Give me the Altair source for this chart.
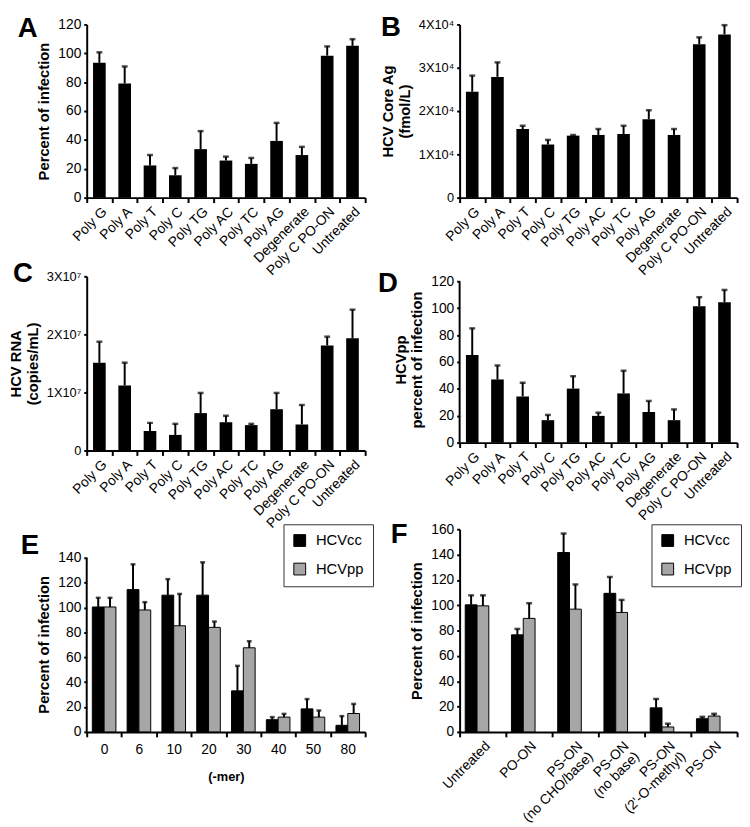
import altair as alt
import pandas as pd

FONT = "Liberation Sans"

POLY = ["Poly G", "Poly A", "Poly T", "Poly C", "Poly TG", "Poly AC", "Poly TC",
        "Poly AG", "Degenerate", "Poly C PO-ON", "Untreated"]

A_VAL = [93.4, 79.1, 22.3, 15.5, 33.6, 25.7, 23.4, 39.3, 29.5, 98.4, 105.2]
A_ERR = [7.3, 11.8, 7.2, 5.0, 12.5, 2.7, 4.1, 12.5, 5.7, 6.4, 4.6]

B_VAL = [24460, 27890, 15850, 12270, 14320, 14480, 14700, 18130, 14480, 35430, 37710]
B_ERR = [3730, 3350, 760, 1070, 150, 1370, 1910, 2060, 1370, 1600, 2130]

C_VAL = [1.51e7, 1.12e7, 0.336e7, 0.269e7, 0.644e7, 0.487e7, 0.437e7, 0.711e7, 0.448e7, 1.81e7, 1.933e7]
C_ERR = [0.364e7, 0.393e7, 0.14e7, 0.19e7, 0.348e7, 0.112e7, 0.022e7, 0.281e7, 0.336e7, 0.151e7, 0.493e7]

D_VAL = [65.1, 47.0, 34.4, 16.7, 40.2, 19.9, 36.6, 22.8, 16.7, 101.5, 104.4]
D_ERR = [19.9, 10.4, 10.2, 3.9, 9.2, 2.4, 16.9, 8.2, 8.0, 6.7, 9.2]

SERIES = ["HCVcc", "HCVpp"]

MER = ["0", "6", "10", "20", "30", "40", "50", "80"]
E_CC = [100.4, 114.4, 109.9, 109.9, 33.0, 9.8, 18.5, 5.3]
E_CC_ERR = [7.4, 20.3, 12.9, 26.4, 20.1, 2.1, 7.9, 7.4]
E_PP = [100.4, 98.0, 85.3, 84.0, 67.6, 11.9, 11.9, 14.8]
E_PP_ERR = [7.4, 6.3, 25.6, 4.7, 5.3, 2.6, 5.3, 7.7]

F_CATS = ["Untreated", "PO-ON", "PS-ON\n(no CHO/base)", "PS-ON\n(no base)",
          "PS-ON\n(2'-O-methyl)", "PS-ON"]
F_CC = [100.3, 76.6, 141.6, 109.4, 19.0, 10.4]
F_CC_ERR = [7.5, 4.7, 15.0, 12.9, 7.0, 1.5]
F_PP = [99.5, 89.6, 96.9, 94.3, 3.9, 12.5]
F_PP_ERR = [8.3, 12.0, 19.5, 9.9, 2.6, 1.8]

W1, W2 = 283, 282


def letter_layer(ch, x, y):
    return alt.Chart(alt.Data(values=[{"t": ch}])).mark_text(
        font=FONT, fontSize=28, fontWeight="bold", align="left", baseline="top", color="black"
    ).encode(text="t:N", x=alt.value(x), y=alt.value(y))


def yaxis(title, ticks, label_expr=None, label_size=14, domain=True, title_y=None):
    kw = dict(values=ticks, title=title, tickSize=3, labelPadding=3,
              labelFontSize=label_size, domain=domain, labelOverlap=False)
    if label_expr:
        kw["labelExpr"] = label_expr
    if title_y is not None:
        kw["titleY"] = title_y
    return alt.Axis(**kw)


def make_y(field, ymax, axis):
    return alt.Y(field, scale=alt.Scale(domain=[0, ymax], nice=False), axis=axis)


def axis_rule(top, ymax, axis):
    # vertical axis line drawn only from 0 up to the top tick value
    return alt.Chart(alt.Data(values=[{"val": 0, "hi": top}])).mark_rule(
        color="black", strokeWidth=2
    ).encode(x=alt.value(0), y=make_y("val:Q", ymax, axis), y2="hi:Q")


def simple_panel(vals, errs, ytitle, ymax, yticks, width, height, letter, lx, ly,
                 label_expr=None, label_size=14, axis_top=None):
    df = pd.DataFrame({"cat": POLY, "val": vals,
                       "hi": [v + e for v, e in zip(vals, errs)]})
    x = alt.X("cat:N", sort=POLY, title=None,
              scale=alt.Scale(paddingInner=0, paddingOuter=0),
              axis=alt.Axis(labelAngle=-45, tickBand="extent", tickSize=5,
                            labelPadding=2, labelOverlap=False))
    ax = yaxis(ytitle, yticks, label_expr, label_size, axis_top is None)
    base = alt.Chart(df)
    bars = base.mark_bar(color="black", width={"band": 0.5}).encode(
        x=x, y=make_y("val:Q", ymax, ax))
    stems = base.mark_rule(color="black", strokeWidth=2).encode(
        x=x, y=make_y("val:Q", ymax, ax), y2="hi:Q")
    caps = base.mark_tick(color="black", size=6, thickness=2.5).encode(
        x=x, y=make_y("hi:Q", ymax, ax))
    layers = [bars, stems, caps]
    if axis_top is not None:
        layers.append(axis_rule(axis_top, ymax, ax))
    layers.append(letter_layer(letter, lx, ly))
    return alt.layer(*layers).properties(width=width, height=height)


def grouped_panel(cats, cc, cce, pp, ppe, ytitle, ymax, yticks, width, height,
                  letter, lx, ly, off_pad, xaxis, legend_x, legend_y, xtitle=None,
                  axis_top=None, cap=6, title_y=None):
    rows = []
    for c, v, e in zip(cats, cc, cce):
        rows.append({"cat": c, "s": "HCVcc", "val": v, "hi": v + e})
    for c, v, e in zip(cats, pp, ppe):
        rows.append({"cat": c, "s": "HCVpp", "val": v, "hi": v + e})
    df = pd.DataFrame(rows)
    x = alt.X("cat:N", sort=cats, title=xtitle,
              scale=alt.Scale(paddingInner=0, paddingOuter=0), axis=xaxis)
    xo = alt.XOffset("s:N", sort=SERIES,
                     scale=alt.Scale(paddingInner=0, paddingOuter=off_pad))
    ax = yaxis(ytitle, yticks, domain=axis_top is None, title_y=title_y)
    color = alt.Color("s:N", sort=SERIES,
                      scale=alt.Scale(domain=SERIES, range=["#000000", "#a6a6a6"]),
                      legend=alt.Legend(title=None, orient="none", legendX=legend_x,
                                        legendY=legend_y, symbolType="square",
                                        symbolSize=144, symbolStrokeColor="black",
                                        symbolStrokeWidth=1, labelFontSize=15,
                                        labelFont=FONT, labelColor="black",
                                        strokeColor="#333", padding=9,
                                        rowPadding=12, labelOffset=9))
    base = alt.Chart(df)
    bars = base.mark_bar(stroke="black", strokeWidth=1).encode(
        x=x, xOffset=xo, y=make_y("val:Q", ymax, ax), color=color)
    stems = base.mark_rule(color="black", strokeWidth=2).encode(
        x=x, xOffset=xo, y=make_y("val:Q", ymax, ax), y2="hi:Q")
    caps = base.mark_tick(color="black", size=cap, thickness=2.5).encode(
        x=x, xOffset=xo, y=make_y("hi:Q", ymax, ax))
    layers = [bars, stems, caps]
    if axis_top is not None:
        layers.append(axis_rule(axis_top, ymax, ax))
    layers.append(letter_layer(letter, lx, ly))
    return alt.layer(*layers).properties(width=width, height=height)


A = simple_panel(A_VAL, A_ERR, "Percent of infection", 120, [0, 20, 40, 60, 80, 100, 120],
                 W1, 176, "A", -70, -9)
B = simple_panel(B_VAL, B_ERR, ["HCV Core Ag", "(fmol/L)"], 40000,
                 [0, 10000, 20000, 30000, 40000], W2, 176, "B", -80, -10,
                 label_expr="datum.value == 0 ? '0' : format(datum.value / 10000, 'd') + 'X10\u2074'",
                 label_size=13)
C = simple_panel(C_VAL, C_ERR, ["HCV RNA", "(copies/mL)"], 3e7,
                 [0, 1e7, 2e7, 3e7], W1, 177, "C", -75, -16,
                 label_expr="datum.value == 0 ? '0' : format(datum.value / 10000000, 'd') + 'X10\u2077'",
                 label_size=13)
D = simple_panel(D_VAL, D_ERR, ["HCVpp", "percent of infection"], 123.7,
                 [0, 20, 40, 60, 80, 100, 120], W2, 169, "D", -83, -6, axis_top=120)

E_XAXIS = alt.Axis(labelAngle=0, tickBand="extent", tickSize=5, labelPadding=6,
                   titleFontSize=13, titlePadding=14, labelOverlap=False)
E = grouped_panel(MER, E_CC, E_CC_ERR, E_PP, E_PP_ERR, "Percent of infection", 162.9,
                  [0, 20, 40, 60, 80, 100, 120, 140], W1, 206, "E", -67, 3, 0.475,
                  E_XAXIS, W1 - 83, -5, xtitle="(-mer)", axis_top=140, cap=5,
                  title_y=117)

F_XAXIS = alt.Axis(labelAngle=-45, tickBand="extent", tickSize=5, labelPadding=2,
                   labelExpr="split(datum.label, '\\n')", labelLineHeight=15,
                   labelOverlap=False)
F = grouped_panel(F_CATS, F_CC, F_CC_ERR, F_PP, F_PP_ERR, "Percent of infection", 160,
                  [0, 20, 40, 60, 80, 100, 120, 140, 160], W2, 206, "F", -70, -8, 0.74,
                  F_XAXIS, 195, -5, cap=6)

chart = alt.concat(
    A, B, C, D, E, F, columns=2, spacing={"row": 80, "column": 96},
    bounds="flush", align="each"
).resolve_scale(color="independent").resolve_legend(color="independent").properties(
    padding=0
).configure(font=FONT).configure_view(stroke=None).configure_axis(
    labelFont=FONT, titleFont=FONT, labelColor="black", titleColor="black",
    domainColor="black", tickColor="black", domainWidth=2, tickWidth=2,
    grid=False, labelFontSize=14, titleFontSize=15, titleFontWeight="bold",
    titlePadding=6, labelOverlap=False
)

chart.save("out.html", embed_options={"renderer": "svg", "actions": False})
